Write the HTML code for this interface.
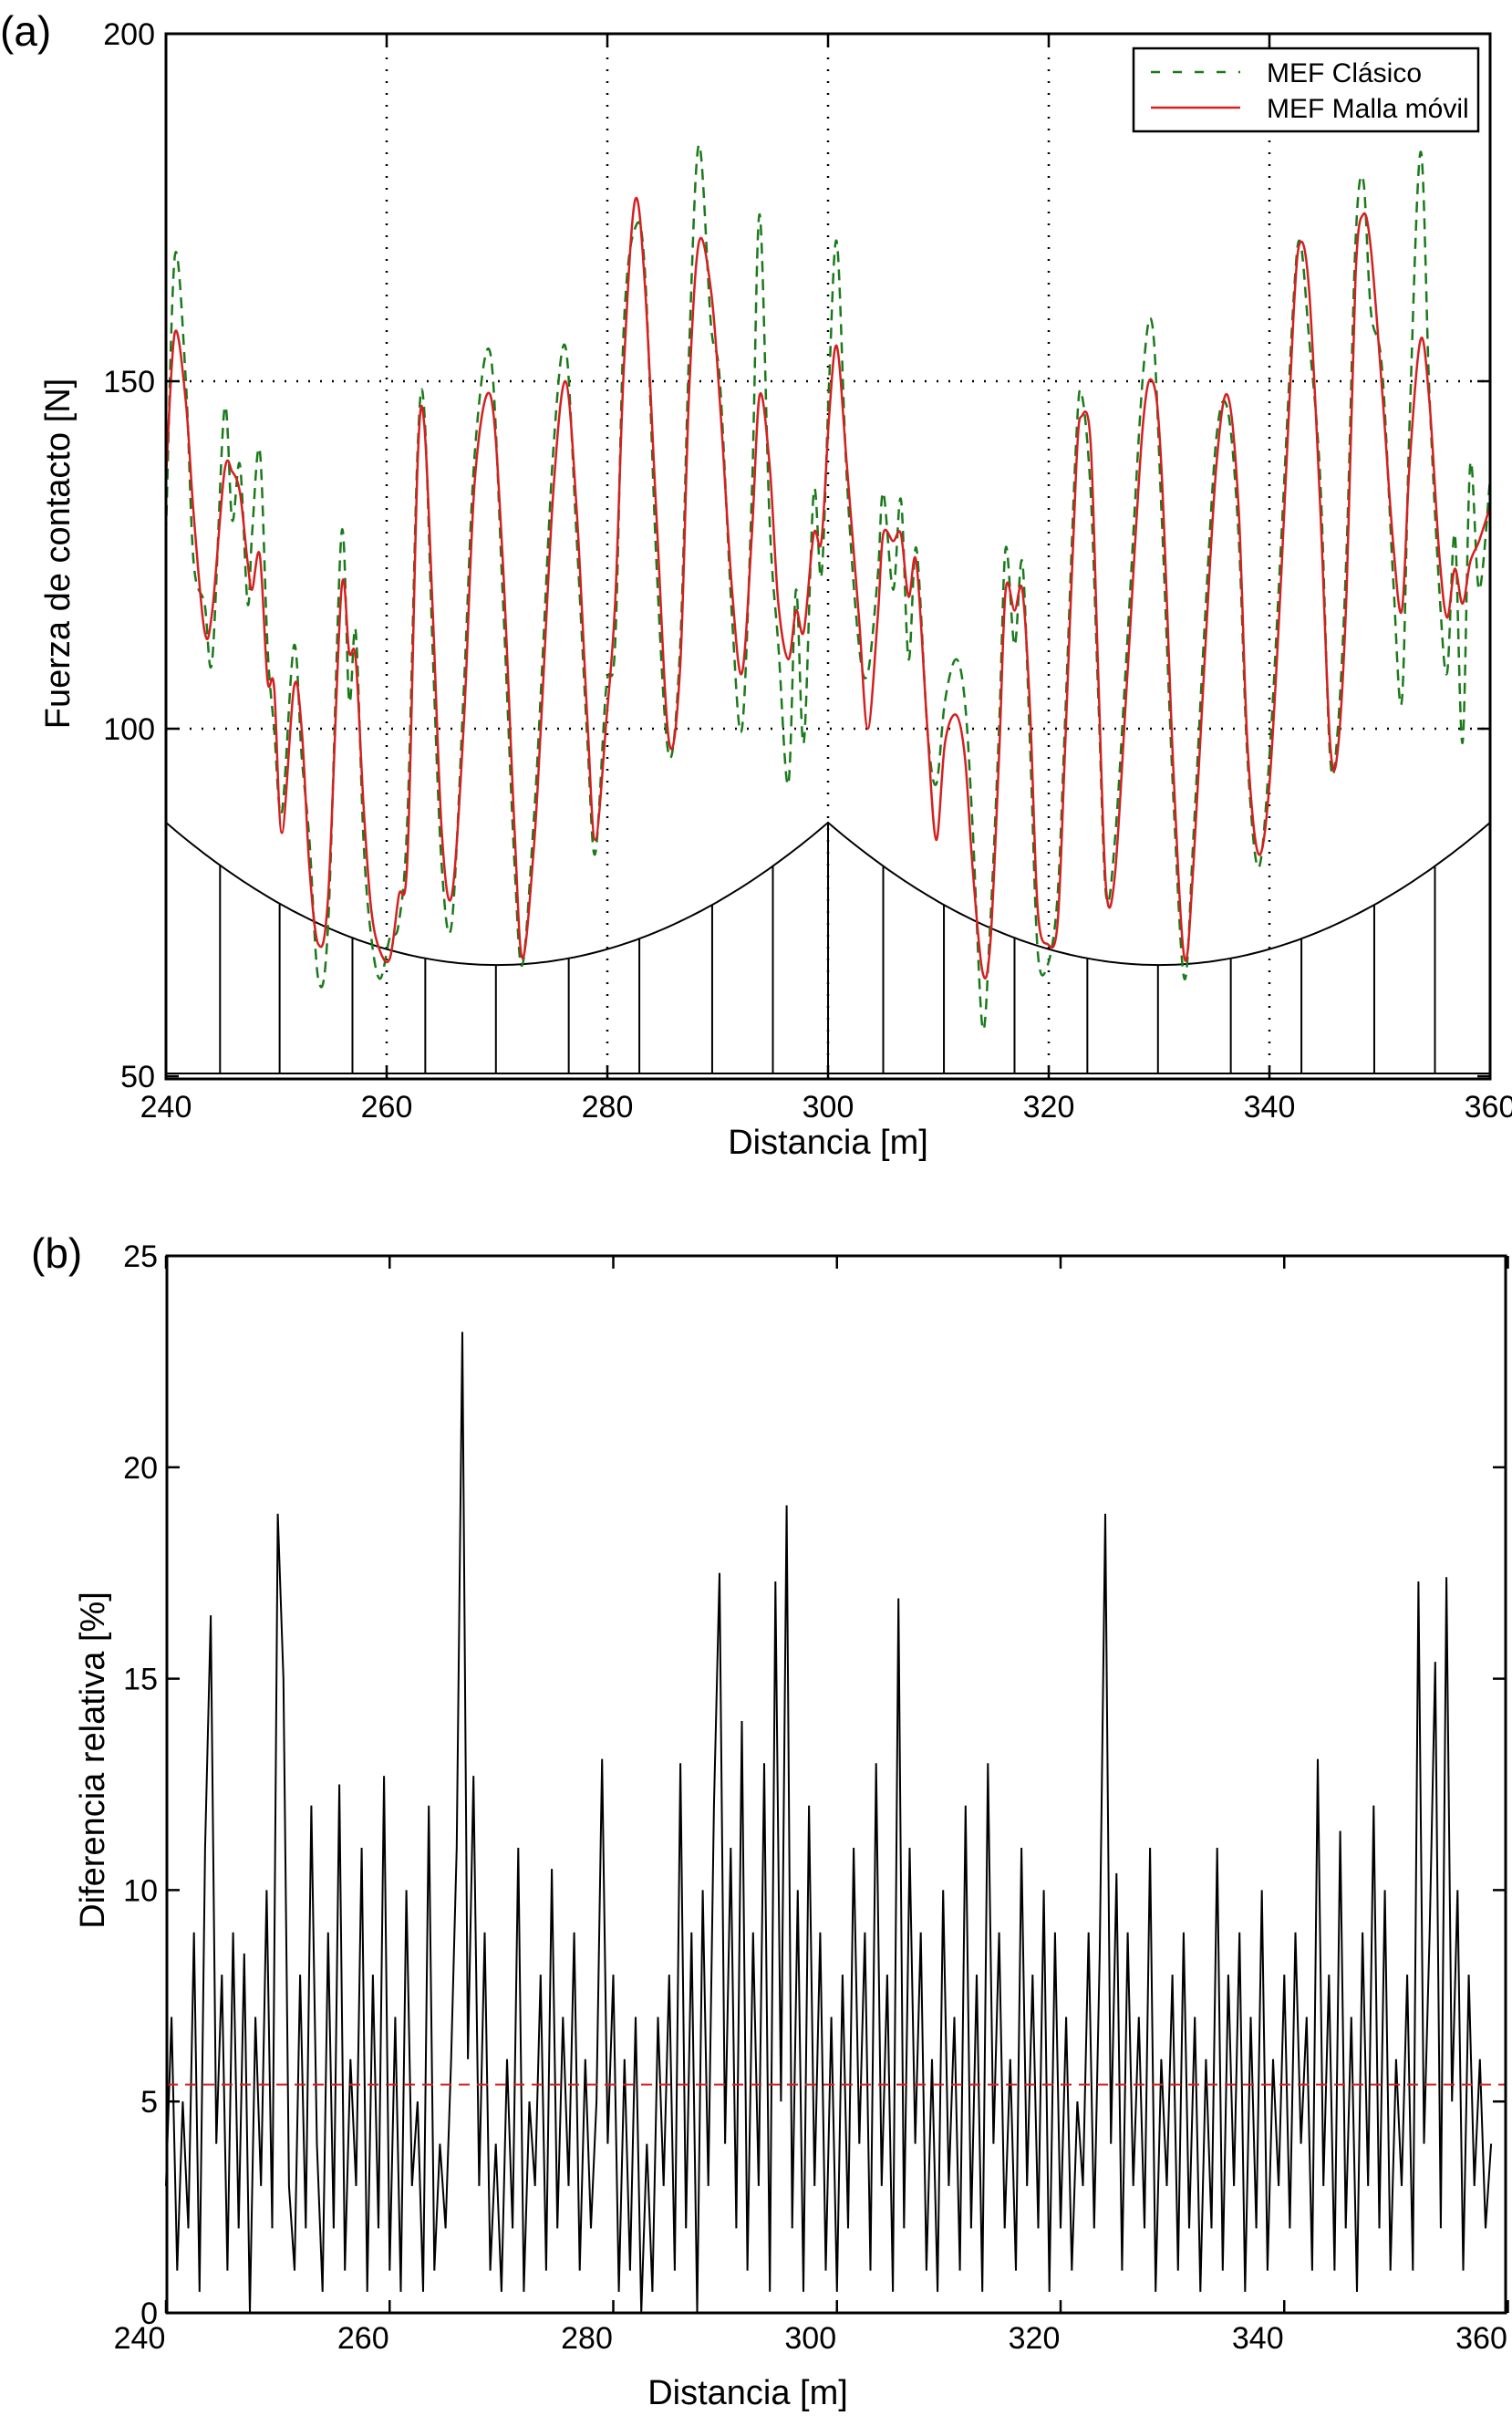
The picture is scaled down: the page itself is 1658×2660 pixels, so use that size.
<!DOCTYPE html>
<html><head><meta charset="utf-8"><style>
body{margin:0;background:#fff}
svg{display:block;font-family:"Liberation Sans",Arial,sans-serif}
</style></head><body>
<svg id="fig" width="1658" height="2660" viewBox="0 0 1658 2660" xmlns="http://www.w3.org/2000/svg"></svg>
<script>
// ---- Panel (a) data ----
const redX=[240,240.8,241.8,242.5,243.5,244.2,245.3,246,246.7,247.4,247.8,248.5,249.2,249.8,250.5,251.6,252.3,253,253.8,254.7,255.9,256.6,257.2,257.9,258.6,259.4,260.3,261.1,261.9,262.8,263.4,264.2,265,265.9,267,268,269.4,270.5,271.6,272.3,273.3,274,275.1,276.2,277.2,278.2,278.9,279.9,280.7,281.5,282.5,283.4,284.5,285.6,286.6,287.4,288.3,289.4,290.2,291.3,292.2,293.1,293.8,294.7,295.5,296.4,297.1,297.8,298.7,299.4,300.1,300.8,301.7,302.8,303.6,304.5,305,305.9,306.6,307.3,308,309,309.8,310.6,311.6,312.4,313.1,314,314.7,315.5,316.1,316.9,317.6,318.3,319,319.9,320.8,321.5,322.5,323,323.8,324.5,325.2,326,327.1,328.5,329.4,330.2,331.3,332.3,333.1,334.1,335.2,336.2,337.2,338,339,340,341.1,342.2,342.8,343.6,344.6,345.5,346.2,347,347.8,348.5,349.2,350.2,351.2,352,352.7,353.7,354.5,355.4,356.1,356.8,357.5,358.2,359,360];
const redY=[136,157,147,131,114,117,137,137,134,124,120,125,107,106,85,106,100,80,69,76,120,111,110,89,74,68,67,76,82,138,144,116,85,76,101,136,148,125,85,67,82,101,134,150,132,101,84,101,118,152,176,164,129,98,109,148,170,163,147,120,108,128,148,138,118,110,117,114,128,127,145,155,138,116,100,116,128,127,128,119,124,100,84,98,102,96,80,65,69,96,120,117,120,103,74,69,72,98,138,145,141,107,77,79,107,143,150,138,94,67,80,109,138,148,132,98,82,92,123,160,170,163,132,98,97,120,165,174,169,149,127,117,138,156,147,125,116,123,118,124,127,132];
const greenY=[128,168,150,124,118,110,146,130,138,118,128,140,112,100,88,112,96,84,64,72,128,104,114,84,70,64,70,72,88,140,146,110,80,72,106,140,154,120,80,66,86,106,140,155,128,98,82,106,112,158,172,166,122,96,112,154,184,158,150,116,100,134,174,130,112,92,120,98,134,122,150,170,136,112,108,122,134,120,133,110,126,100,92,104,110,104,86,57,72,100,126,112,124,98,68,66,76,102,142,148,134,104,76,84,112,150,158,132,90,64,84,114,142,146,128,96,80,96,128,162,170,156,136,96,100,126,170,179,160,152,122,104,144,183,148,120,108,128,98,138,120,136];
const yTicksA=[50,100,150,200];
const xTicks=[240,260,280,300,320,340,360];
const droppers=[240,244.9,250.3,256.9,263.5,269.9,276.5,282.9,289.5,295,300,305,310.5,316.9,323.5,329.9,336.5,342.9,349.5,355,360];
// ---- Panel (b) data ----
const bStart=240, bStep=0.5;
const diffY=[3,7,1,5,2,9,0.5,11,16.5,4,8,1,9,2,8.5,0,7,3,10,2,18.9,
15,3,1,8,2,12,4,0.5,9,2,12.5,1,6,3,11,0.5,8,2,12.7,1,
7,0.5,10,3,5,0.5,12,1,4,2,6,11,23.2,6,12.7,3,9,1,4,0.5,
6,2,11,0.5,5,3,8,1,10.5,2,7,3,9,1,6,2,5,13.1,4,8,
0.5,6,1,7,0,4,0.5,7,3,8,1,13,2,9,0,10,3,12,17.5,4,
11,2,14,1,9,3,13,0.5,17.3,5,19.1,2,10,0.5,12,3,9,1,7,0.5,
8,2,11,4,9,1,13,3,8,0.5,16.9,2,11,4,9,1,6,0.5,10,3,
7,1,12,2,8,0.5,13,4,9,2,6,1,11,3,8,2,10,0.5,9,2,
7,1,5,3,9,2,8.5,18.9,4,10.4,1,9,3,7,2,11,0.5,6,3,8,
1,9,2,7,0.5,6,2,11,1,8,3,9,0.5,7,2,10,1,6,3,8,
2,9,4,7,1,13.1,3,8,1,11.4,2,7,0.5,9,3,12,2,10,1,6,
3,8,1,17.3,4,9,15.4,2,17.4,5,10,1,8,3,6,2,4];
const meanDiff=5.4;
const yTicksB=[0,5,10,15,20,25];

const NS="http://www.w3.org/2000/svg";
const svg=document.getElementById('fig');
function el(tag,attrs,parent){const e=document.createElementNS(NS,tag);for(const k in attrs)e.setAttribute(k,attrs[k]);(parent||svg).appendChild(e);return e;}
function txt(s,x,y,size,anchor,parent,rot){const t=el('text',{x:x,y:y,'font-size':size,'text-anchor':anchor||'middle',fill:'#000'},parent);if(rot)t.setAttribute('transform',rot);t.textContent=s;return t;}
function smooth(pts){let d='M'+pts[0][0].toFixed(1)+' '+pts[0][1].toFixed(1);
 for(let i=0;i<pts.length-1;i++){const p0=pts[Math.max(0,i-1)],p1=pts[i],p2=pts[i+1],p3=pts[Math.min(pts.length-1,i+2)];
  const c1x=p1[0]+(p2[0]-p0[0])/6,c1y=p1[1]+(p2[1]-p0[1])/6,c2x=p2[0]-(p3[0]-p1[0])/6,c2y=p2[1]-(p3[1]-p1[1])/6;
  d+='C'+c1x.toFixed(1)+' '+c1y.toFixed(1)+' '+c2x.toFixed(1)+' '+c2y.toFixed(1)+' '+p2[0].toFixed(1)+' '+p2[1].toFixed(1);}
 return d;}

const A={l:182,r:1634,t:37,b:1183};
const ax=v=>A.l+(v-240)*(A.r-A.l)/120;
const ay=v=>1180-(v-50)*(1180-37)/150;
const B={l:183,r:1651,t:1377,b:2536};
const bx=v=>182+(v-240)*245.25/20;
const by=v=>B.b-v*(B.b-B.t)/25;

// ===== Panel A =====
const ga=el('g',{});


const la=txt('(a)',0,50,46,'start',ga);

const grid=el('g',{stroke:'#000','stroke-width':2.5,'stroke-dasharray':'2 11'},ga);

[260,280,300,320,340].forEach(v=>el('line',{x1:ax(v),x2:ax(v),y1:A.t,y2:A.b},grid));
[100,150].forEach(v=>el('line',{x1:A.l,x2:A.r,y1:ay(v),y2:ay(v)},grid));
const cat=v=>{const m=((v-240)%60+60)%60;return 66+20.5*Math.pow((m-30)/30,2);};
const cg=el('g',{stroke:'#000','stroke-width':2,fill:'none'},ga);

let cp='';for(let v=240;v<=360.001;v+=0.5){cp+=(v===240?'M':'L')+ax(v).toFixed(1)+' '+ay(cat(v)).toFixed(1);}
el('path',{d:cp},cg);
el('line',{x1:A.l,x2:A.r,y1:ay(50.4),y2:ay(50.4)},cg);
droppers.forEach(v=>{const d=el('line',{x1:ax(v),x2:ax(v),y1:ay(cat(v)),y2:ay(50.4)},cg);});
const gPts=redX.map((x,i)=>[ax(x),ay(greenY[i])]);
const rPts=redX.map((x,i)=>[ax(x),ay(redY[i])]);
const gl=el('path',{d:smooth(gPts),stroke:'#1a7a1a','stroke-width':2.5,fill:'none','stroke-dasharray':'12 8'},ga);

const rl=el('path',{d:smooth(rPts),stroke:'#d42020','stroke-width':2.5,fill:'none','stroke-linejoin':'round'},ga);

const fa=el('rect',{x:A.l,y:A.t,width:A.r-A.l,height:A.b-A.t,fill:'none',stroke:'#000','stroke-width':3},ga);

xTicks.forEach(v=>{el('line',{x1:ax(v),x2:ax(v),y1:A.t,y2:A.t+14,stroke:'#000','stroke-width':2.5},ga);el('line',{x1:ax(v),x2:ax(v),y1:A.b,y2:A.b-14,stroke:'#000','stroke-width':2.5},ga);
 const t=txt(String(v),ax(v),1225,34,'middle',ga);});
yTicksA.forEach(v=>{el('line',{x1:A.l,x2:A.l+14,y1:ay(v),y2:ay(v),stroke:'#000','stroke-width':2.5},ga);el('line',{x1:A.r,x2:A.r-14,y1:ay(v),y2:ay(v),stroke:'#000','stroke-width':2.5},ga);
 const t=txt(String(v),170,ay(v)+12,34,'end',ga);});
const xta=txt('Distancia [m]',908,1265,38,'middle',ga);
const yta=txt('Fuerza de contacto [N]',0,0,38,'middle',ga,'translate(76,607) rotate(-90)');
const lg=el('g',{},ga);
el('rect',{x:1243,y:53,width:378,height:91,fill:'#fff',stroke:'#000','stroke-width':2.5},lg);
const le1=el('g',{},lg);
el('line',{x1:1262,x2:1360,y1:79,y2:79,stroke:'#1a7a1a','stroke-width':2.5,'stroke-dasharray':'10 14'},le1);
txt('MEF Clásico',1389,90,30,'start',le1);
const le2=el('g',{},lg);
el('line',{x1:1262,x2:1360,y1:118,y2:118,stroke:'#d42020','stroke-width':2.5},le2);
txt('MEF Malla móvil',1389,129,30,'start',le2);

// ===== Panel B =====
const gb=el('g',{});

const lb=txt('(b)',34,1390,46,'start',gb);
let dp='';diffY.forEach((v,i)=>{const x=bStart+i*bStep;dp+=(i?'L':'M')+bx(x).toFixed(1)+' '+by(v).toFixed(1);});
const dl=el('path',{d:dp,stroke:'#000','stroke-width':2,fill:'none'},gb);

const ml=el('line',{x1:B.l,x2:B.r,y1:by(meanDiff),y2:by(meanDiff),stroke:'#d42020','stroke-width':2,'stroke-dasharray':'12 8'},gb);

const fb=el('rect',{x:B.l,y:B.t,width:B.r-B.l,height:B.b-B.t,fill:'none',stroke:'#000','stroke-width':3},gb);

xTicks.forEach(v=>{el('line',{x1:bx(v),x2:bx(v),y1:B.t,y2:B.t+14,stroke:'#000','stroke-width':2.5},gb);el('line',{x1:bx(v),x2:bx(v),y1:B.b,y2:B.b-14,stroke:'#000','stroke-width':2.5},gb);
 const t=txt(String(v),bx(v)-29,2575,34,'middle',gb);});
yTicksB.forEach(v=>{el('line',{x1:B.l,x2:B.l+14,y1:by(v),y2:by(v),stroke:'#000','stroke-width':2.5},gb);el('line',{x1:B.r,x2:B.r-14,y1:by(v),y2:by(v),stroke:'#000','stroke-width':2.5},gb);
 const t=txt(String(v),173,by(v)+12,34,'end',gb);});
const xtb=txt('Distancia [m]',820,2636,38,'middle',gb);
const ytb=txt('Diferencia relativa [%]',0,0,38,'middle',gb,'translate(114,1930) rotate(-90)');
</script>
</body></html>
